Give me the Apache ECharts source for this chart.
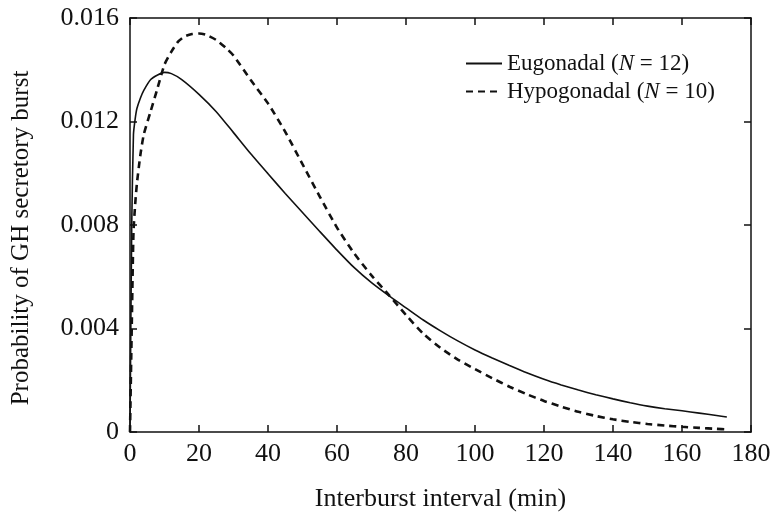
<!DOCTYPE html>
<html>
<head>
<meta charset="utf-8">
<script src="https://cdn.jsdelivr.net/npm/echarts@6/dist/echarts.min.js"></script>
<style>
html,body{margin:0;padding:0;background:#fff;}
#chart{width:775px;height:517px;}
</style>
</head>
<body>
<div id="chart"></div>
<script>
// Data
var xTicks = [0, 20, 40, 60, 80, 100, 120, 140, 160, 180];
var yTicks = [0, 0.004, 0.008, 0.012, 0.016];
var xTitle = 'Interburst interval (min)';
var yTitle = 'Probability of GH secretory burst';

var eugName = 'Eugonadal';
var eugN = '12';
var eugX = [0, 0.5, 1, 1.5, 2, 3, 4, 6, 8, 10, 12, 15, 20, 25, 30, 35, 40, 45, 50, 55, 60, 65, 70, 75, 80, 85, 90, 95, 100, 105, 110, 115, 120, 125, 130, 135, 140, 145, 150, 155, 160, 165, 170, 173];
var eugY = [0, 0.0080, 0.0115, 0.0121, 0.0125, 0.0129, 0.0132, 0.01362, 0.0138, 0.0139, 0.01385, 0.01362, 0.01305, 0.01238, 0.01157, 0.01075, 0.00998, 0.00922, 0.00848, 0.00775, 0.00703, 0.00635, 0.00577, 0.00527, 0.0048, 0.00433, 0.00391, 0.00352, 0.00317, 0.00286, 0.00257, 0.00229, 0.00204, 0.00182, 0.00162, 0.00144, 0.00128, 0.00113, 0.0010, 0.0009, 0.00082, 0.00073, 0.00064, 0.00058];

var hypoName = 'Hypogonadal';
var hypoN = '10';
var hypoX = [0, 0.5, 1, 1.5, 2, 3, 4, 6, 8, 10, 12, 14, 16, 18, 20, 22, 25, 28, 30, 35, 40, 45, 50, 55, 60, 65, 70, 75, 80, 85, 90, 95, 100, 105, 110, 115, 120, 125, 130, 135, 140, 145, 150, 155, 160, 165, 170, 173];
var hypoY = [0, 0.0040, 0.0077, 0.0088, 0.0096, 0.0107, 0.0115, 0.0124, 0.0133, 0.0142, 0.0147, 0.0151, 0.0153, 0.01538, 0.0154, 0.01535, 0.01515, 0.01482, 0.01455, 0.0136, 0.0127, 0.0116, 0.01035, 0.0091, 0.0079, 0.0069, 0.00605, 0.0053, 0.00452, 0.0038, 0.00325, 0.0028, 0.00243, 0.00208, 0.00175, 0.00146, 0.0012, 0.00098, 0.00078, 0.00062, 0.00049, 0.00039, 0.00031, 0.00025, 0.0002, 0.00016, 0.00012, 0.0001];

function pairs(xs, ys) { return xs.map(function (x, i) { return [x, ys[i]]; }); }

var FONT = 'Liberation Serif';
var INK = '#111';
var chart = echarts.init(document.getElementById('chart'), null, {renderer: 'canvas'});

var xMin = xTicks[0], xMax = xTicks[xTicks.length - 1], xInt = xTicks[1] - xTicks[0];
var yMin = yTicks[0], yMax = yTicks[yTicks.length - 1], yInt = yTicks[1] - yTicks[0];

function fmtY(v) { return Math.abs(v) < 1e-12 ? '0' : v.toFixed(3); }

var axisLine = {show: true, onZero: false, lineStyle: {color: INK, width: 1.5}};
var tickIn = {show: true, inside: true, length: 7, lineStyle: {color: INK, width: 1.5}};

var legendRich = {
  a: {fontFamily: FONT, fontSize: 23, color: INK},
  i: {fontFamily: FONT, fontSize: 23, color: INK, fontStyle: 'italic'}
};
var nMap = {};
nMap[eugName] = eugN;
nMap[hypoName] = hypoN;

chart.setOption({
  animation: false,
  backgroundColor: '#fff',
  grid: {left: 130, right: 24, top: 18, bottom: 85, containLabel: false},
  legend: {
    orient: 'vertical',
    left: 460,
    top: 47,
    itemWidth: 36,
    itemHeight: 12,
    itemGap: 5,
    data: [eugName, hypoName],
    itemStyle: {opacity: 0},
    formatter: function (name) { return '{a|' + name + ' (}{i|N}{a| = ' + nMap[name] + ')}'; },
    textStyle: {rich: legendRich, fontFamily: FONT, fontSize: 23, color: INK}
  },
  xAxis: [{
    type: 'value', position: 'bottom', min: xMin, max: xMax, interval: xInt,
    name: xTitle, nameLocation: 'middle', nameGap: 54,
    nameTextStyle: {fontFamily: FONT, fontSize: 26, color: INK},
    axisLine: axisLine, axisTick: tickIn, splitLine: {show: false},
    axisLabel: {fontFamily: FONT, fontSize: 26, color: INK, margin: 9}
  }, {
    type: 'value', position: 'top', min: xMin, max: xMax, interval: xInt,
    axisLine: axisLine, axisTick: tickIn, splitLine: {show: false},
    axisLabel: {show: false}
  }],
  yAxis: [{
    type: 'value', position: 'left', min: yMin, max: yMax, interval: yInt,
    name: yTitle, nameLocation: 'middle', nameGap: 96,
    nameTextStyle: {fontFamily: FONT, fontSize: 25, color: INK, padding: [0, 26, 0, 0]},
    axisLine: axisLine, axisTick: tickIn, splitLine: {show: false},
    axisLabel: {fontFamily: FONT, fontSize: 26, color: INK, margin: 11, formatter: fmtY}
  }, {
    type: 'value', position: 'right', min: yMin, max: yMax, interval: yInt,
    axisLine: axisLine, axisTick: tickIn, splitLine: {show: false},
    axisLabel: {show: false}
  }],
  series: [{
    name: eugName, type: 'line', xAxisIndex: 0, yAxisIndex: 0,
    data: pairs(eugX, eugY), symbol: 'none', smooth: 0.2,
    lineStyle: {color: INK, width: 1.6, type: 'solid'},
    itemStyle: {color: INK}
  }, {
    name: hypoName, type: 'line', xAxisIndex: 0, yAxisIndex: 0,
    data: pairs(hypoX, hypoY), symbol: 'none', smooth: 0.2,
    lineStyle: {color: INK, width: 2.6, type: [7, 5]},
    itemStyle: {color: INK}
  }]
});
</script>
</body>
</html>
